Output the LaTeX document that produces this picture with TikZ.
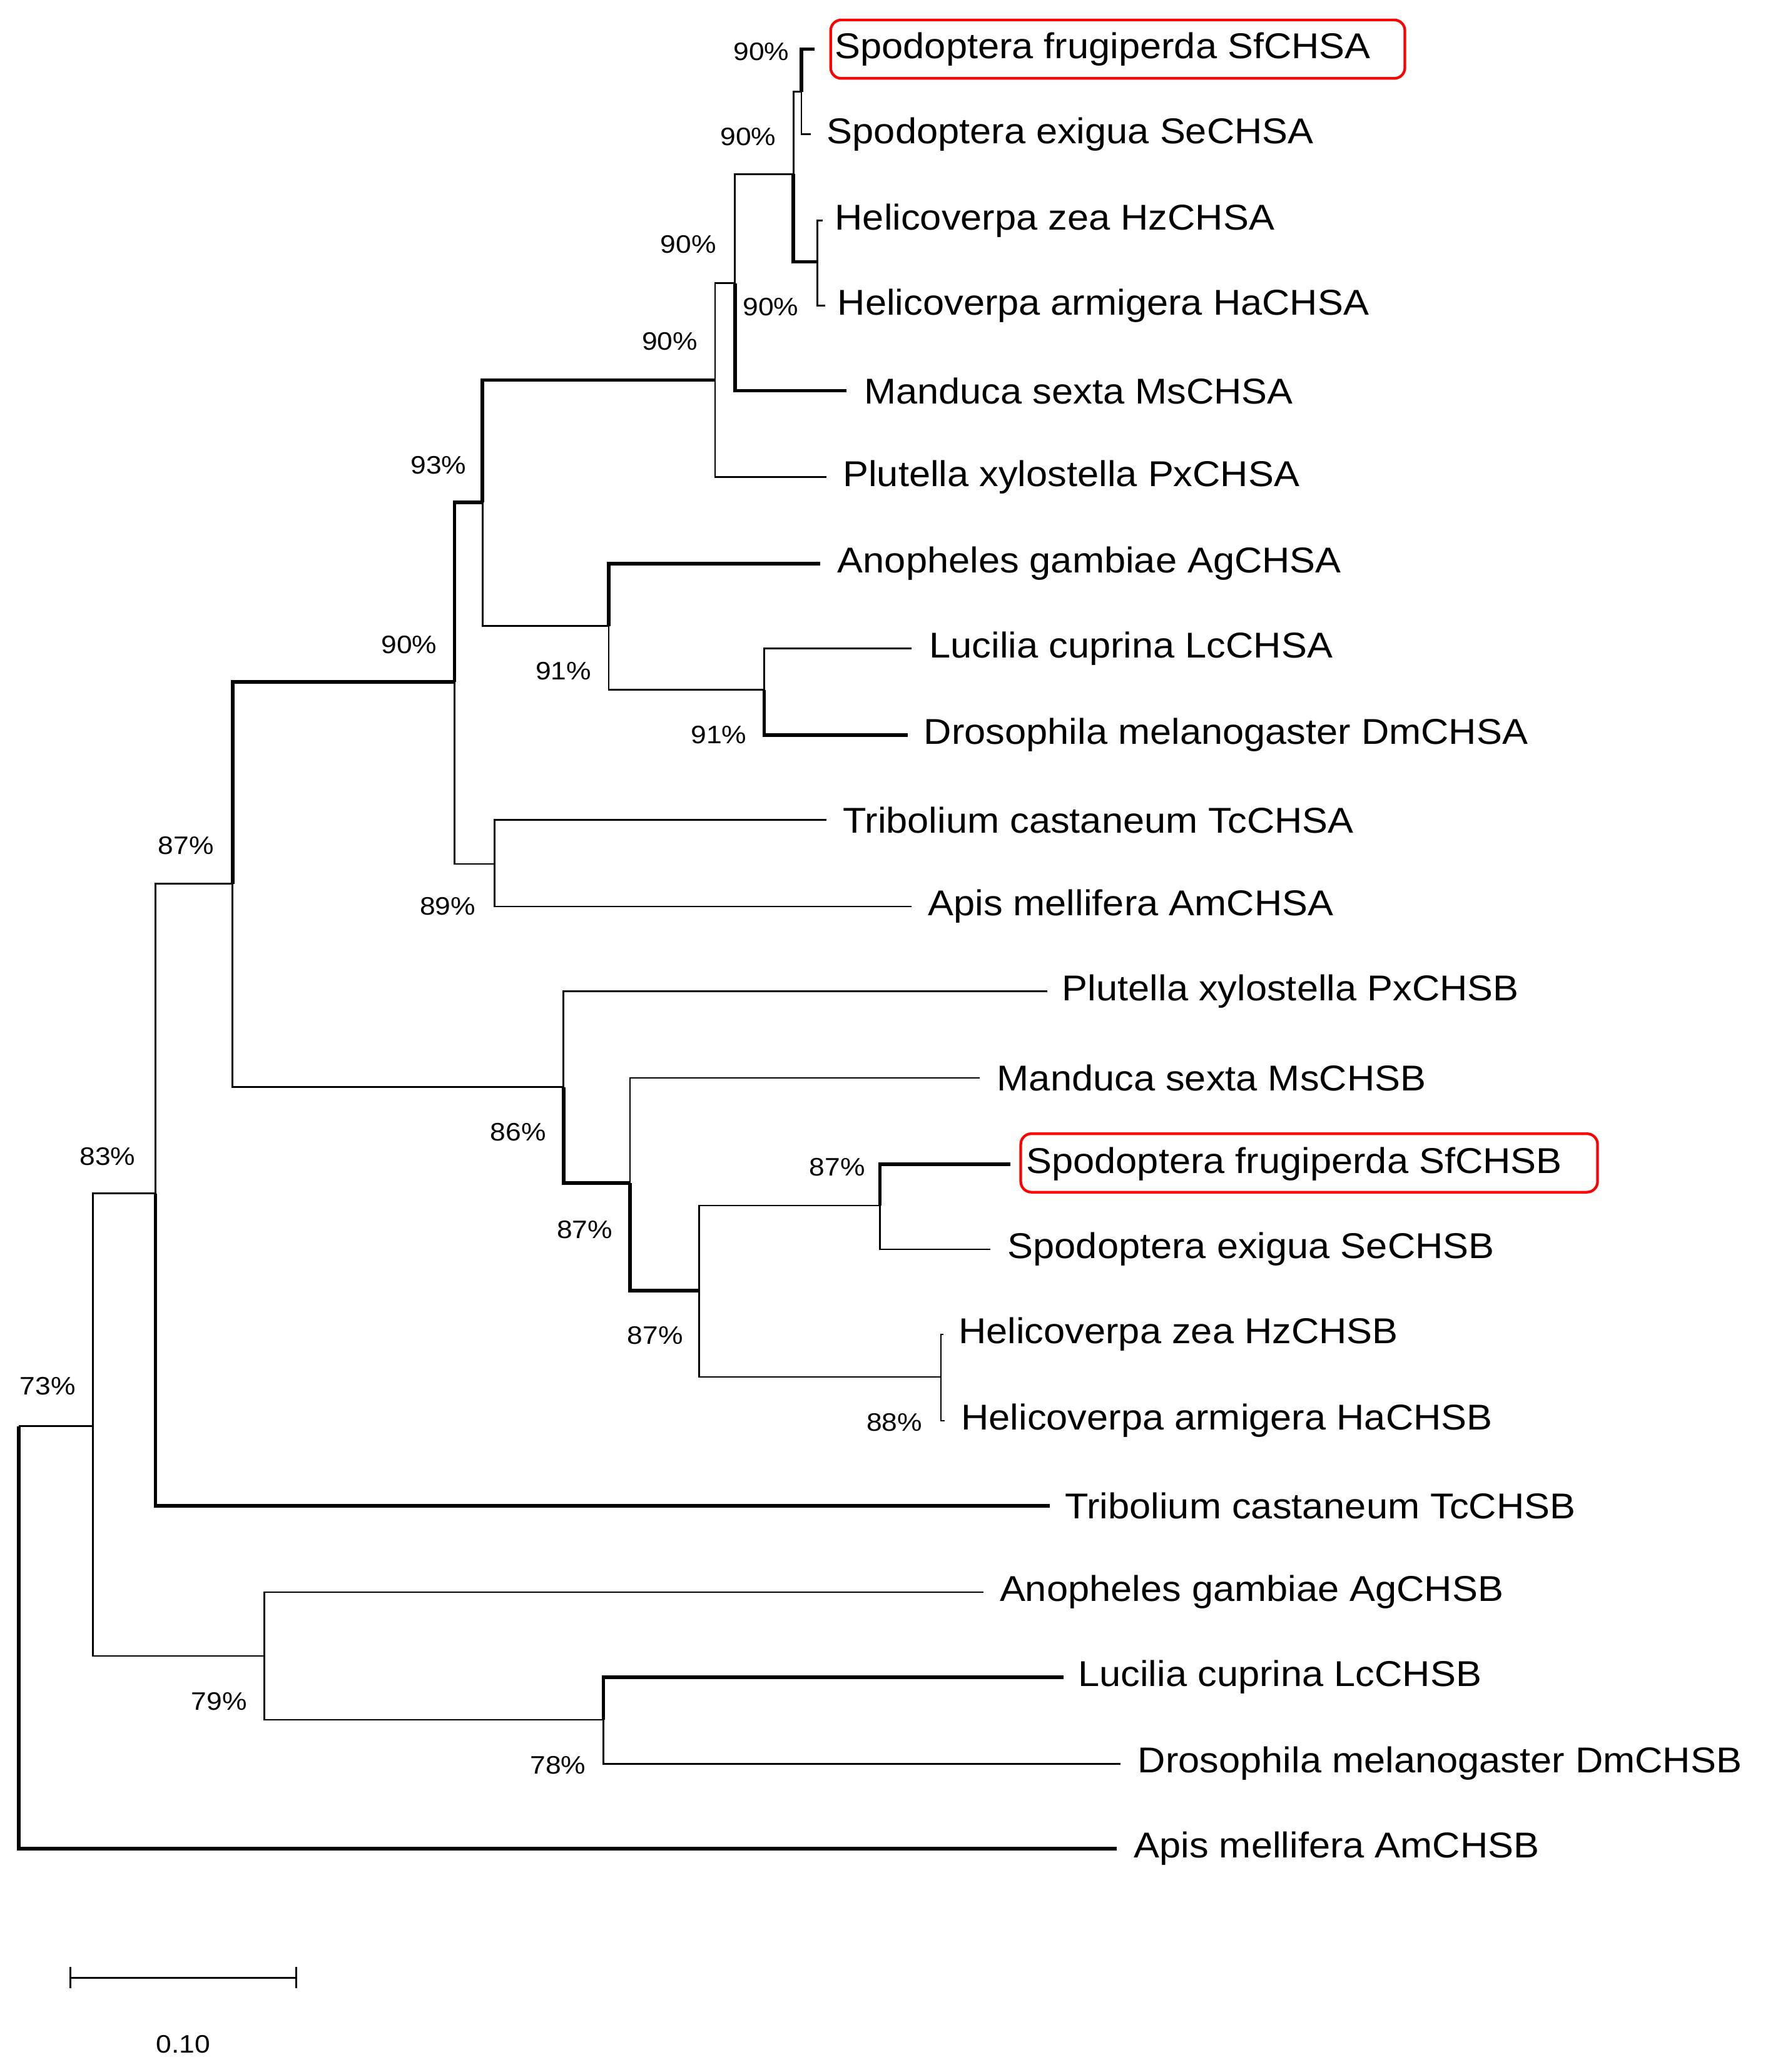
\documentclass[tikz,border=0pt]{standalone}
\usepackage{fontspec}
\setmainfont{Liberation Sans}
\begin{document}
\begin{tikzpicture}[x=1pt,y=-1pt,
  br/.style={line width=1.3pt},
  tk/.style={line width=2.7pt},
  lf/.style={anchor=west,inner sep=0pt,font=\fontsize{27}{27}\selectfont,xscale=1.07},
  bs/.style={anchor=east,inner sep=0pt,font=\fontsize{19}{19}\selectfont,xscale=1.1},
  hl/.style={draw=red,line width=2pt,rounded corners=8pt}]
\useasboundingbox (0,0) rectangle (1330,1559);
% internal nodes
\coordinate (R) at (14,1073);
\coordinate (A) at (70,1073);
\coordinate (B) at (117,898);
\coordinate (D) at (199,1246);
\coordinate (C) at (175,665);
\coordinate (CA) at (342,513);
\coordinate (CB) at (424,818);
\coordinate (E) at (363,378);
\coordinate (TA) at (372,650);
\coordinate (F) at (538,286);
\coordinate (G) at (458,471);
\coordinate (H) at (553,213);
\coordinate (I) at (597,131);
\coordinate (J) at (603,69);
\coordinate (K) at (615,197);
\coordinate (L) at (575,519);
\coordinate (M) at (474,890);
\coordinate (N) at (526,971);
\coordinate (O) at (662,907);
\coordinate (P) at (708,1036);
\coordinate (Q) at (454,1294);
% leaf ends
\coordinate (sfA) at (613,37);
\coordinate (seA) at (610,101);
\coordinate (hzA) at (619,166);
\coordinate (haA) at (621,230);
\coordinate (msA) at (637,294);
\coordinate (pxA) at (622,359);
\coordinate (agA) at (617,424);
\coordinate (lcA) at (686,488);
\coordinate (dmA) at (683,553);
\coordinate (tcA) at (622,617);
\coordinate (amA) at (686,682);
\coordinate (pxB) at (788,746);
\coordinate (msB) at (737,811);
\coordinate (sfB) at (760,876);
\coordinate (seB) at (745,940);
\coordinate (hzB) at (710,1004);
\coordinate (haB) at (711,1069);
\coordinate (tcB) at (790,1133);
\coordinate (agB) at (740,1198);
\coordinate (lcB) at (800,1262);
\coordinate (dmB) at (843,1327);
\coordinate (amB) at (840,1391);
% labels
\node[lf] (LsfA) at (628,37) {Spodoptera frugiperda SfCHSA};
\node[lf] (LseA) at (622,101) {Spodoptera exigua SeCHSA};
\node[lf] (LhzA) at (628,166) {Helicoverpa zea HzCHSA};
\node[lf] (LhaA) at (630,230) {Helicoverpa armigera HaCHSA};
\node[lf] (LmsA) at (650,294) {Manduca sexta MsCHSA};
\node[lf] (LpxA) at (634,359) {Plutella xylostella PxCHSA};
\node[lf] (LagA) at (630,424) {Anopheles gambiae AgCHSA};
\node[lf] (LlcA) at (699,488) {Lucilia cuprina LcCHSA};
\node[lf] (LdmA) at (695,553) {Drosophila melanogaster DmCHSA};
\node[lf] (LtcA) at (634,617) {Tribolium castaneum TcCHSA};
\node[lf] (LamA) at (698,682) {Apis mellifera AmCHSA};
\node[lf] (LpxB) at (799,746) {Plutella xylostella PxCHSB};
\node[lf] (LmsB) at (750,811) {Manduca sexta MsCHSB};
\node[lf] (LsfB) at (772,876) {Spodoptera frugiperda SfCHSB};
\node[lf] (LseB) at (758,940) {Spodoptera exigua SeCHSB};
\node[lf] (LhzB) at (721,1004) {Helicoverpa zea HzCHSB};
\node[lf] (LhaB) at (723,1069) {Helicoverpa armigera HaCHSB};
\node[lf] (LtcB) at (801,1133) {Tribolium castaneum TcCHSB};
\node[lf] (LagB) at (752,1198) {Anopheles gambiae AgCHSB};
\node[lf] (LlcB) at (811,1262) {Lucilia cuprina LcCHSB};
\node[lf] (LdmB) at (856,1327) {Drosophila melanogaster DmCHSB};
\node[lf] (LamB) at (853,1391) {Apis mellifera AmCHSB};
\draw[hl] (625,15) rectangle (1057,59);
\draw[hl] (768,853) rectangle (1202,897);
% branches
\draw[br] (R) |- (A);
\draw[tk] (R) |- (amB);
\draw[br] (A) |- (B);
\draw[br] (A) |- (D);
\draw[br] (B) |- (C);
\draw[tk] (B) |- (tcB);
\draw[tk] (C) |- (CA);
\draw[br] (C) |- (CB);
\draw[tk] (CA) |- (E);
\draw[br] (CA) |- (TA);
\draw[tk] (E) |- (F);
\draw[br] (E) |- (G);
\draw[br] (F) |- (H);
\draw[br] (F) |- (pxA);
\draw[br] (H) |- (I);
\draw[tk] (H) |- (msA);
\draw[br] (I) |- (J);
\draw[tk] (I) |- (K);
\draw[tk] (J) |- (sfA);
\draw[br] (J) |- (seA);
\draw[br] (K) |- (hzA);
\draw[br] (K) |- (haA);
\draw[tk] (G) |- (agA);
\draw[br] (G) |- (L);
\draw[br] (L) |- (lcA);
\draw[tk] (L) |- (dmA);
\draw[br] (TA) |- (tcA);
\draw[br] (TA) |- (amA);
\draw[br] (CB) |- (pxB);
\draw[tk] (CB) |- (M);
\draw[br] (M) |- (msB);
\draw[tk] (M) |- (N);
\draw[br] (N) |- (O);
\draw[br] (N) |- (P);
\draw[tk] (O) |- (sfB);
\draw[br] (O) |- (seB);
\draw[br] (P) |- (hzB);
\draw[br] (P) |- (haB);
\draw[br] (D) |- (agB);
\draw[br] (D) |- (Q);
\draw[tk] (Q) |- (lcB);
\draw[br] (Q) |- (dmB);
% bootstrap
\node[bs] (b1) at (594,39) {90\%};
\node[bs] (b2) at (584,103) {90\%};
\node[bs] (b3) at (539,184) {90\%};
\node[bs] (b4) at (601,231) {90\%};
\node[bs] (b5) at (525,257) {90\%};
\node[bs] (b6) at (351,350) {93\%};
\node[bs] (b7) at (329,485) {90\%};
\node[bs] (b8) at (445,505) {91\%};
\node[bs] (b9) at (562,553) {91\%};
\node[bs] (b10) at (161,636) {87\%};
\node[bs] (b11) at (358,682) {89\%};
\node[bs] (b12) at (411,852) {86\%};
\node[bs] (b13) at (102,870) {83\%};
\node[bs] (b14) at (651,878) {87\%};
\node[bs] (b15) at (461,925) {87\%};
\node[bs] (b16) at (514,1005) {87\%};
\node[bs] (b17) at (694,1070) {88\%};
\node[bs] (b18) at (57,1043) {73\%};
\node[bs] (b19) at (186,1280) {79\%};
\node[bs] (b20) at (441,1328) {78\%};
% scale bar
\coordinate (s1) at (53,1488);
\coordinate (s2) at (223,1488);
\draw[br] (s1) -- (s2);
\draw[br] ([yshift=-8]s1) -- ([yshift=8]s1);
\draw[br] ([yshift=-8]s2) -- ([yshift=8]s2);
\node[bs,anchor=center] (sc) at (138,1538) {0.10};
\end{tikzpicture}
\end{document}
